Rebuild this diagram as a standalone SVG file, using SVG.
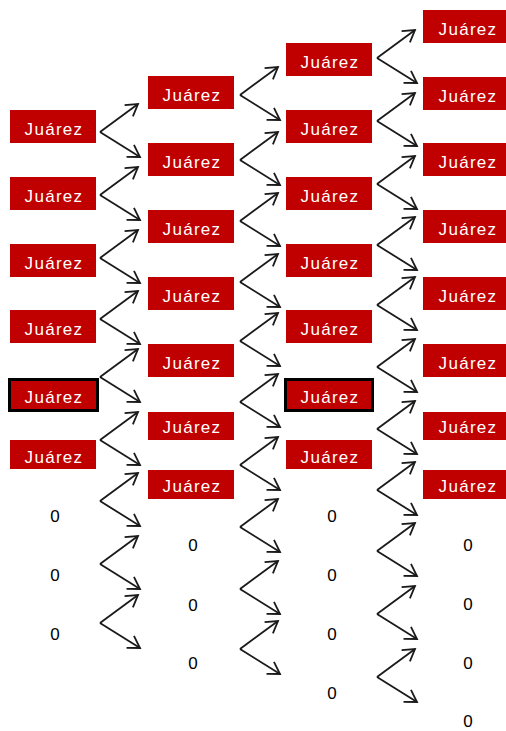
<svg xmlns="http://www.w3.org/2000/svg" width="506" height="731" viewBox="0 0 506 731">
<style>
.box{fill:#c00000}
.bold{stroke:#000;stroke-width:3}
.lbl{font-family:"Liberation Sans",Arial,sans-serif;font-size:17px;fill:#fff;text-anchor:middle;letter-spacing:1.3px}
.zero{font-family:"Liberation Sans",Arial,sans-serif;font-size:17px;fill:#000;text-anchor:middle}
.arr line{stroke:#1a1a1a;stroke-width:1.8;marker-end:url(#ah)}
</style>
<defs>
<marker id="ah" markerUnits="userSpaceOnUse" markerWidth="20" markerHeight="20" viewBox="-16 -10 20 20" refX="0" refY="0" orient="auto" overflow="visible">
<path d="M-11.5,-7 L0,0 L-11.5,7" fill="none" stroke="#1a1a1a" stroke-width="1.8" stroke-linejoin="miter"/>
</marker>
</defs>
<rect width="506" height="731" fill="#fff"/>
<!-- column 1 -->
<g id="c1r1"><rect class="box" x="10" y="110" width="86" height="33"/><text class="lbl" x="54" y="135">Juárez</text></g>
<g id="c1r2"><rect class="box" x="10" y="177" width="86" height="33"/><text class="lbl" x="54" y="202">Juárez</text></g>
<g id="c1r3"><rect class="box" x="10" y="244" width="86" height="33"/><text class="lbl" x="54" y="269">Juárez</text></g>
<g id="c1r4"><rect class="box" x="10" y="310" width="86" height="33"/><text class="lbl" x="54" y="335">Juárez</text></g>
<g id="c1r5"><rect class="box bold" x="9.5" y="379.5" width="88" height="31"/><text class="lbl" x="54" y="403">Juárez</text></g>
<g id="c1r6"><rect class="box" x="10" y="440" width="86" height="29"/><text class="lbl" x="54" y="463">Juárez</text></g>
<g id="c1r7"><text class="zero" x="55" y="522">0</text></g>
<g id="c1r8"><text class="zero" x="55" y="581">0</text></g>
<g id="c1r9"><text class="zero" x="55" y="640">0</text></g>
<!-- column 2 -->
<g id="c2r1"><rect class="box" x="148" y="76" width="86" height="33"/><text class="lbl" x="192" y="101">Juárez</text></g>
<g id="c2r2"><rect class="box" x="148" y="143" width="86" height="33"/><text class="lbl" x="192" y="168">Juárez</text></g>
<g id="c2r3"><rect class="box" x="148" y="210" width="86" height="33"/><text class="lbl" x="192" y="235">Juárez</text></g>
<g id="c2r4"><rect class="box" x="148" y="277" width="86" height="33"/><text class="lbl" x="192" y="302">Juárez</text></g>
<g id="c2r5"><rect class="box" x="148" y="344" width="86" height="33"/><text class="lbl" x="192" y="369">Juárez</text></g>
<g id="c2r6"><rect class="box" x="148" y="412" width="86" height="28"/><text class="lbl" x="192" y="433">Juárez</text></g>
<g id="c2r7"><rect class="box" x="148" y="470" width="86" height="29"/><text class="lbl" x="192" y="492">Juárez</text></g>
<g id="c2r8"><text class="zero" x="193" y="551">0</text></g>
<g id="c2r9"><text class="zero" x="193" y="611">0</text></g>
<g id="c2r10"><text class="zero" x="193" y="669">0</text></g>
<!-- column 3 -->
<g id="c3r1"><rect class="box" x="286" y="43" width="86" height="33"/><text class="lbl" x="330" y="68">Juárez</text></g>
<g id="c3r2"><rect class="box" x="286" y="110" width="86" height="33"/><text class="lbl" x="330" y="135">Juárez</text></g>
<g id="c3r3"><rect class="box" x="286" y="177" width="86" height="33"/><text class="lbl" x="330" y="202">Juárez</text></g>
<g id="c3r4"><rect class="box" x="286" y="244" width="86" height="33"/><text class="lbl" x="330" y="269">Juárez</text></g>
<g id="c3r5"><rect class="box" x="286" y="310" width="86" height="33"/><text class="lbl" x="330" y="335">Juárez</text></g>
<g id="c3r6"><rect class="box bold" x="285.5" y="379.5" width="87" height="31"/><text class="lbl" x="330" y="403">Juárez</text></g>
<g id="c3r7"><rect class="box" x="286" y="440" width="86" height="29"/><text class="lbl" x="330" y="463">Juárez</text></g>
<g id="c3r8"><text class="zero" x="332" y="522">0</text></g>
<g id="c3r9"><text class="zero" x="332" y="581">0</text></g>
<g id="c3r10"><text class="zero" x="332" y="640">0</text></g>
<g id="c3r11"><text class="zero" x="332" y="699">0</text></g>
<!-- column 4 -->
<g id="c4r1"><rect class="box" x="423" y="10" width="86" height="33"/><text class="lbl" x="468" y="35">Juárez</text></g>
<g id="c4r2"><rect class="box" x="423" y="77" width="86" height="33"/><text class="lbl" x="468" y="102">Juárez</text></g>
<g id="c4r3"><rect class="box" x="423" y="143" width="86" height="33"/><text class="lbl" x="468" y="168">Juárez</text></g>
<g id="c4r4"><rect class="box" x="423" y="210" width="86" height="33"/><text class="lbl" x="468" y="235">Juárez</text></g>
<g id="c4r5"><rect class="box" x="423" y="277" width="86" height="33"/><text class="lbl" x="468" y="302">Juárez</text></g>
<g id="c4r6"><rect class="box" x="423" y="344" width="86" height="33"/><text class="lbl" x="468" y="369">Juárez</text></g>
<g id="c4r7"><rect class="box" x="423" y="412" width="86" height="28"/><text class="lbl" x="468" y="433">Juárez</text></g>
<g id="c4r8"><rect class="box" x="423" y="470" width="86" height="29"/><text class="lbl" x="468" y="492">Juárez</text></g>
<g id="c4r9"><text class="zero" x="468" y="551">0</text></g>
<g id="c4r10"><text class="zero" x="468" y="610">0</text></g>
<g id="c4r11"><text class="zero" x="468" y="669">0</text></g>
<g id="c4r12"><text class="zero" x="468" y="727">0</text></g>
<!-- connectors -->
<g id="connectors" class="arr">
<line x1="100" y1="132" x2="138" y2="104"/><line x1="100" y1="132" x2="140" y2="157"/>
<line x1="100" y1="195" x2="138" y2="167"/><line x1="100" y1="195" x2="140" y2="220"/>
<line x1="100" y1="258" x2="138" y2="230"/><line x1="100" y1="258" x2="140" y2="283"/>
<line x1="100" y1="319" x2="138" y2="291"/><line x1="100" y1="319" x2="140" y2="344"/>
<line x1="100" y1="377" x2="138" y2="349"/><line x1="100" y1="377" x2="140" y2="402"/>
<line x1="100" y1="440" x2="138" y2="412"/><line x1="100" y1="440" x2="140" y2="465"/>
<line x1="100" y1="501" x2="138" y2="473"/><line x1="100" y1="501" x2="140" y2="526"/>
<line x1="100" y1="564" x2="138" y2="536"/><line x1="100" y1="564" x2="140" y2="589"/>
<line x1="100" y1="623" x2="138" y2="595"/><line x1="100" y1="623" x2="140" y2="648"/>

<line x1="240" y1="95" x2="278" y2="67"/><line x1="240" y1="95" x2="280" y2="120"/>
<line x1="240" y1="160" x2="278" y2="132"/><line x1="240" y1="160" x2="280" y2="185"/>
<line x1="240" y1="221" x2="278" y2="193"/><line x1="240" y1="221" x2="280" y2="246"/>
<line x1="240" y1="282" x2="278" y2="254"/><line x1="240" y1="282" x2="280" y2="307"/>
<line x1="240" y1="341" x2="278" y2="313"/><line x1="240" y1="341" x2="280" y2="366"/>
<line x1="240" y1="402" x2="278" y2="374"/><line x1="240" y1="402" x2="280" y2="427"/>
<line x1="240" y1="465" x2="278" y2="437"/><line x1="240" y1="465" x2="280" y2="490"/>
<line x1="240" y1="527" x2="278" y2="499"/><line x1="240" y1="527" x2="280" y2="552"/>
<line x1="240" y1="589" x2="278" y2="561"/><line x1="240" y1="589" x2="280" y2="614"/>
<line x1="240" y1="649" x2="278" y2="621"/><line x1="240" y1="649" x2="280" y2="674"/>

<line x1="377" y1="58" x2="415" y2="30"/><line x1="377" y1="58" x2="417" y2="83"/>
<line x1="377" y1="121" x2="415" y2="93"/><line x1="377" y1="121" x2="417" y2="146"/>
<line x1="377" y1="184" x2="415" y2="156"/><line x1="377" y1="184" x2="417" y2="209"/>
<line x1="377" y1="245" x2="415" y2="217"/><line x1="377" y1="245" x2="417" y2="270"/>
<line x1="377" y1="305" x2="415" y2="277"/><line x1="377" y1="305" x2="417" y2="330"/>
<line x1="377" y1="367" x2="415" y2="339"/><line x1="377" y1="367" x2="417" y2="392"/>
<line x1="377" y1="429" x2="415" y2="401"/><line x1="377" y1="429" x2="417" y2="454"/>
<line x1="377" y1="490" x2="415" y2="462"/><line x1="377" y1="490" x2="417" y2="515"/>
<line x1="377" y1="551" x2="415" y2="523"/><line x1="377" y1="551" x2="417" y2="576"/>
<line x1="377" y1="614" x2="415" y2="586"/><line x1="377" y1="614" x2="417" y2="639"/>
<line x1="377" y1="677" x2="415" y2="649"/><line x1="377" y1="677" x2="417" y2="702"/>
</g>
</svg>
